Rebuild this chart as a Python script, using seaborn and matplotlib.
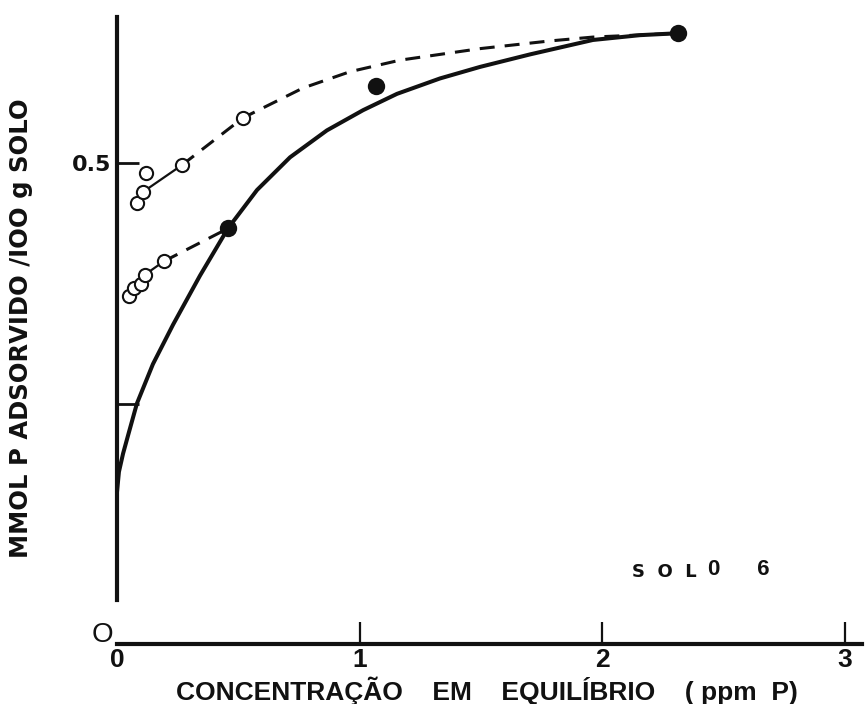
import matplotlib
matplotlib.use("Agg")
import matplotlib.pyplot as plt
import pandas as pd
import seaborn as sns

# Curva ajustada (linha cheia)
curve_x = [0.0, 0.008, 0.025, 0.049, 0.082, 0.148, 0.231, 0.342, 0.457, 0.577,
           0.713, 0.865, 1.014, 1.154, 1.331, 1.496, 1.702, 1.961, 2.155, 2.311]
curve_y = [0.158, 0.179, 0.198, 0.220, 0.250, 0.291, 0.332, 0.383, 0.432, 0.472,
           0.506, 0.534, 0.555, 0.572, 0.588, 0.600, 0.613, 0.628, 0.633, 0.635]

# Pontos cheios
filled_x = [0.457, 1.067, 2.311]
filled_y = [0.432, 0.580, 0.635]

# Pontos abertos - serie superior
upper_x = [0.082, 0.107, 0.119, 0.268, 0.519]
upper_y = [0.459, 0.470, 0.490, 0.498, 0.547]
upper_link_x = [0.107, 0.268]
upper_link_y = [0.470, 0.498]
upper_dash_x = [0.268, 0.519, 0.766, 0.960, 1.166, 1.496, 1.784, 1.961, 2.311]
upper_dash_y = [0.498, 0.547, 0.578, 0.595, 0.607, 0.619, 0.627, 0.631, 0.635]

# Pontos abertos - serie inferior
lower_x = [0.049, 0.070, 0.099, 0.115, 0.194]
lower_y = [0.362, 0.370, 0.374, 0.384, 0.398]
lower_link_x = [0.115, 0.194]
lower_link_y = [0.384, 0.398]
lower_dash_x = [0.194, 0.457]
lower_dash_y = [0.398, 0.432]

x_ticks = [0, 1, 2, 3]
x_tick_labels = ["0", "1", "2", "3"]
y_ticks = [0.25, 0.5]
y_tick_labels = ["", "0.5"]

x_label = "CONCENTRAÇÃO    EM    EQUILÍBRIO    ( ppm  P)"
y_label = "MMOL P ADSORVIDO /IOO g SOLO"

sns.set_theme(style="white")
plt.rcParams["font.family"] = ["Liberation Sans", "DejaVu Sans"]

fig = plt.figure(figsize=(8.67, 7.04), dpi=100)
ax = fig.add_axes([117 / 867, 60 / 704, 745 / 867, 630 / 704])
ax.set_facecolor("white")

ink = "#111111"

def line(xs, ys, **kw):
    df = pd.DataFrame({"x": xs, "y": ys})
    sns.lineplot(data=df, x="x", y="y", sort=False, estimator=None,
                 color=ink, ax=ax, clip_on=False, **kw)

line(curve_x, curve_y, linewidth=2.9, solid_capstyle="round",
     solid_joinstyle="round")
line(upper_link_x, upper_link_y, linewidth=1.6)
line(lower_link_x, lower_link_y, linewidth=1.6)
line(upper_dash_x, upper_dash_y, linewidth=2.2, linestyle=(0, (4.9, 3.3)))
line(lower_dash_x, lower_dash_y, linewidth=2.2, linestyle=(0, (4.9, 3.3)))

open_df = pd.DataFrame({"x": upper_x + lower_x, "y": upper_y + lower_y})
sns.scatterplot(data=open_df, x="x", y="y", s=9.5 ** 2, facecolor="white",
                edgecolor=ink, linewidth=1.5, ax=ax, zorder=5, clip_on=False)
filled_df = pd.DataFrame({"x": filled_x, "y": filled_y})
sns.scatterplot(data=filled_df, x="x", y="y", s=12.5 ** 2, color=ink,
                edgecolor=ink, linewidth=0, ax=ax, zorder=6, clip_on=False)

ax.set_xlim(0, 3.07)
ax.set_ylim(0, 0.655)

for side in ("top", "right"):
    ax.spines[side].set_visible(False)
ax.spines["left"].set_linewidth(3.0)
ax.spines["left"].set_color(ink)
ax.spines["left"].set_bounds(0.046, 0.652)
ax.spines["bottom"].set_linewidth(3.0)
ax.spines["bottom"].set_color(ink)

ax.set_xticks(x_ticks)
ax.set_xticklabels(x_tick_labels, fontfamily="Liberation Sans",
                   fontweight="bold", fontsize=19)
ax.set_yticks(y_ticks)
ax.set_yticklabels(y_tick_labels, fontfamily="DejaVu Sans",
                   fontweight="bold", fontsize=16)
ax.tick_params(axis="x", bottom=True, direction="in", length=16, width=1.6,
               color=ink, pad=3, labelcolor=ink)
ax.tick_params(axis="y", left=True, direction="in", length=16, width=2.0,
               color=ink, pad=4, labelcolor=ink)
ax.xaxis.get_major_ticks()[0].tick1line.set_visible(False)

# origem do eixo y
ax.text(-0.058, 0.0094, "O", ha="center", va="center", fontsize=20,
        fontfamily="Liberation Sans", color=ink, clip_on=False)

ax.set_xlabel(x_label, fontfamily="Liberation Sans", fontweight="bold",
              fontsize=19, color=ink)
ax.xaxis.set_label_coords(0.497, -0.052)
ax.set_ylabel(y_label, fontfamily="DejaVu Sans", fontweight="bold",
              fontsize=17.5, color=ink)
ax.yaxis.set_label_coords(-0.113, 0.5016)

ax.text(2.122, 0.0697, "S  O  L", ha="left", va="baseline", fontsize=13,
        fontfamily="DejaVu Sans", fontweight="bold", color=ink)
ax.text(2.435, 0.0717, "0      6", ha="left", va="baseline", fontsize=16,
        fontfamily="Liberation Sans", fontweight="bold", color=ink)

fig.savefig("out.png", dpi=100, facecolor="white")
